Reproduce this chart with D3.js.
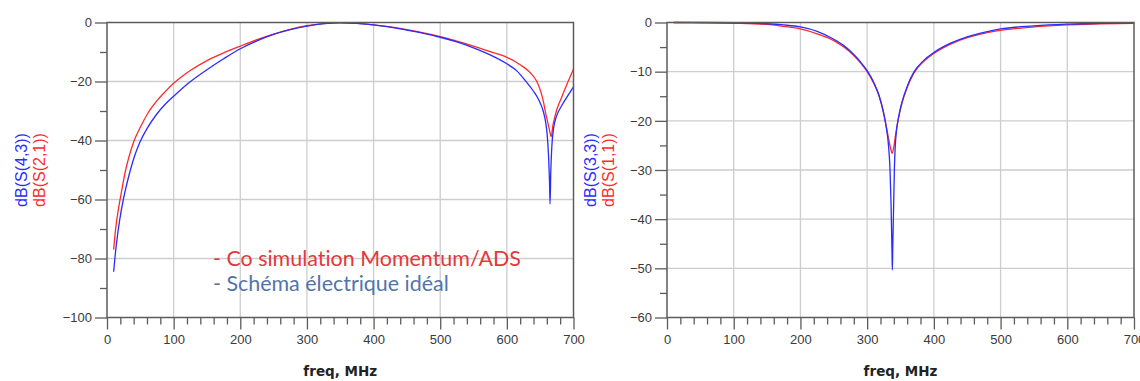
<!DOCTYPE html>
<html lang="fr">
<head>
<meta charset="UTF-8">
<title>Paramètres S</title>
<script src="https://d3js.org/d3.v7.min.js"></script>
<style>
  body { margin: 0; background: #fff; }
  svg { display: block; }
  .grid line { stroke: #cdcdcd; stroke-width: 1.3px; }
  .frame { fill: none; stroke: #5c5c5c; stroke-width: 1.5px; }
  .axis path { display: none; }
  .axis line { stroke: #5c5c5c; stroke-width: 1.3px; }
  .axis text { font-family: "Liberation Sans", Arial, sans-serif; font-size: 13px; fill: #3a3a3a; }
  .x-title { font-family: "DejaVu Sans", Verdana, sans-serif; font-weight: bold; font-size: 13.5px; fill: #222; }
  .y-title { font-family: "Liberation Sans", Arial, sans-serif; font-size: 16px; }
  .legend { font-family: Lato, "Open Sans", sans-serif; font-size: 20px; font-variant-ligatures: none; font-feature-settings: "liga" 0, "clig" 0; }
</style>
</head>
<body>
<svg id="chart" width="1140" height="381"></svg>
<script>
// --- left panel: transmission, dB(S(2,1)) red and dB(S(4,3)) blue
const s21Freq = [10, 12, 14, 17, 20, 24, 28, 33, 40, 50, 62, 75, 87, 100, 112, 125, 150, 175, 200, 225, 250, 275, 300, 325, 350, 375, 400, 425, 450, 475, 500, 525, 550, 575, 600, 620, 635, 645, 651, 655, 658, 661, 664, 666.5, 669, 672, 675, 682, 690, 700];
const s21dB = [-77, -72, -68, -63.5, -59.5, -54.5, -50, -45.5, -40.5, -35.5, -30.5, -26.5, -23.5, -20.6, -18.4, -16.3, -12.9, -10.3, -8, -5.8, -3.9, -2.3, -1.1, -0.35, -0.05, -0.3, -0.8, -1.5, -2.4, -3.5, -4.8, -6.3, -8, -9.9, -11.8, -14.3, -17, -20, -23.5, -27, -30.5, -33.5, -36.5, -38.7, -35, -32, -29.5, -25.5, -21, -15.8];

const s43Freq = [10, 12, 15, 19, 24.5, 30, 34.5, 41, 49.5, 60, 74.5, 87, 100, 122, 150, 175, 200, 225, 250, 275, 300, 325, 350, 375, 400, 425, 450, 475, 500, 525, 550, 575, 600, 615, 628, 640, 648, 654.5, 658, 660.5, 662.5, 664, 664.8, 666, 667.5, 670, 675, 682, 692, 700];
const s43dB = [-84.5, -79.5, -73.5, -67, -60, -54.5, -50.5, -45.5, -40.5, -36, -31.1, -27.8, -25, -20.6, -16, -12.3, -8.9, -6.2, -4, -2.4, -1.2, -0.4, -0.08, -0.3, -0.8, -1.6, -2.6, -3.7, -5, -6.6, -8.6, -11, -14, -16.4, -19.8, -23.3, -26.3, -30, -33.5, -38, -45, -54, -61.5, -50, -42, -36, -31.5, -28.3, -24.6, -21.8];

// --- right panel: reflection, dB(S(1,1)) red and dB(S(3,3)) blue
const s11Freq = [10, 50, 100, 150, 175, 200, 225, 250, 265, 280, 290, 300, 310, 318, 324, 328, 332, 335, 337.5, 340, 343, 347, 352, 360, 370, 385, 400, 425, 450, 475, 500, 550, 600, 650, 700];
const s11dB = [0, -0.05, -0.15, -0.4, -0.8, -1.3, -2.3, -3.7, -5, -6.7, -8.2, -10, -12.4, -15, -18, -20.6, -23.5, -25.5, -26.6, -25.3, -22.5, -19.5, -16.5, -13.2, -10.3, -7.9, -6.3, -4.4, -3.1, -2.2, -1.6, -0.9, -0.5, -0.3, -0.15];

const s33Freq = [10, 50, 100, 150, 175, 200, 225, 250, 265, 280, 290, 300, 310, 318, 324, 328, 332, 334.3, 335.8, 337.3, 337.8, 338.5, 339.3, 340.8, 342, 344, 347, 352, 360, 370, 385, 400, 425, 450, 475, 500, 550, 600, 650, 700];
const s33dB = [0, 0, -0.05, -0.25, -0.5, -0.9, -1.8, -3.4, -4.7, -6.5, -8, -9.8, -12.2, -14.9, -18, -20.8, -25, -30, -36.7, -47, -50.3, -45, -40, -30, -25.5, -22, -19.3, -16.3, -13, -10.1, -7.7, -6.1, -4.2, -2.9, -2, -1.3, -0.7, -0.35, -0.15, -0.05];

const freqTicks = [0, 100, 200, 300, 400, 500, 600, 700];
const leftTicks = [-100, -80, -60, -40, -20, 0];
const rightTicks = [-60, -50, -40, -30, -20, -10, 0];
const legendLabels = ["- Co simulation Momentum/ADS", "- Schéma électrique idéal"];

const RED = "#ff2a2a", BLUE = "#2b2bff";
const svg = d3.select("#chart");

function zip(f, v) { return f.map((d, i) => ({ f: d, v: v[i] })); }

function drawPanel(p) {
  const x = d3.scaleLinear().domain([0, 700]).range([p.x0, p.x1]);
  const y = d3.scaleLinear().domain([p.yTicks[0], 0]).range([317.5, 22.5]);
  const g = svg.append("g");

  // grid
  const grid = g.append("g").attr("class", "grid");
  grid.selectAll(".gx").data(freqTicks.slice(1, -1)).join("line")
    .attr("x1", d => x(d)).attr("x2", d => x(d)).attr("y1", y.range()[0]).attr("y2", y.range()[1]);
  grid.selectAll(".gy").data(p.yTicks.slice(1, -1)).join("line")
    .attr("x1", p.x0).attr("x2", p.x1).attr("y1", d => y(d)).attr("y2", d => y(d));

  // minor + major ticks
  const minorX = d3.range(0, 701, 20).filter(d => d % 100);
  g.append("g").attr("class", "axis").attr("transform", `translate(0,${y.range()[0]})`)
    .call(d3.axisBottom(x).tickValues(minorX).tickSize(7).tickFormat(""));
  g.append("g").attr("class", "axis").attr("transform", `translate(0,${y.range()[0]})`)
    .call(d3.axisBottom(x).tickValues(freqTicks).tickSize(12).tickPadding(5));
  g.append("g").attr("class", "axis").attr("transform", `translate(${p.x0},0)`)
    .call(d3.axisLeft(y).tickValues(p.minorY).tickSize(7).tickFormat(""));
  g.append("g").attr("class", "axis").attr("transform", `translate(${p.x0},0)`)
    .call(d3.axisLeft(y).tickValues(p.yTicks).tickSize(12).tickPadding(3));
  g.selectAll(".axis text").attr("font-family", null).attr("font-size", null);

  // curves
  const line = d3.line().x(d => x(d.f)).y(d => y(d.v)).curve(d3.curveMonotoneX);
  p.series.forEach(s => {
    g.append("path").datum(zip(s.f, s.v)).attr("d", line)
      .attr("fill", "none").attr("stroke", s.color).attr("stroke-width", 1.3);
  });

  g.append("rect").attr("class", "frame")
    .attr("x", p.x0).attr("y", 22.5).attr("width", p.x1 - p.x0).attr("height", 295);

  // titles
  g.append("text").attr("class", "x-title").attr("text-anchor", "middle")
    .attr("x", (p.x0 + p.x1) / 2).attr("y", 376).text("freq, MHz");
  p.yTitles.forEach(t => {
    g.append("text").attr("class", "y-title").attr("fill", t.color).attr("text-anchor", "middle")
      .attr("transform", `translate(${p.x0 + t.dx},170) rotate(-90)`).text(t.text);
  });
  return { x, y, g };
}

const left = drawPanel({
  x0: 107, x1: 573.5, yTicks: leftTicks, minorY: d3.range(-90, 0, 20),
  series: [{ f: s21Freq, v: s21dB, color: RED }, { f: s43Freq, v: s43dB, color: BLUE }],
  yTitles: [{ text: "dB(S(4,3))", color: BLUE, dx: -80 }, { text: "dB(S(2,1))", color: RED, dx: -62 }]
});

drawPanel({
  x0: 667, x1: 1134, yTicks: rightTicks, minorY: d3.range(-55, 0, 10),
  series: [{ f: s11Freq, v: s11dB, color: RED }, { f: s33Freq, v: s33dB, color: BLUE }],
  yTitles: [{ text: "dB(S(3,3))", color: BLUE, dx: -71 }, { text: "dB(S(1,1))", color: RED, dx: -53.5 }]
});

// legend annotation in the left panel
const legColors = ["#e5383b", "#5274aa"];
const leg = left.g.selectAll(".legend").data(legendLabels).join("text")
  .attr("class", "legend")
  .attr("x", left.x(159)).attr("y", (d, i) => left.y(-82.5) + i * 25)
  .attr("fill", (d, i) => legColors[i]).text(d => d);
// fit font size to the width of the original annotation
const w0 = leg.node().getComputedTextLength();
leg.style("font-size", (20 * 308 / w0) + "px");
</script>
</body>
</html>
